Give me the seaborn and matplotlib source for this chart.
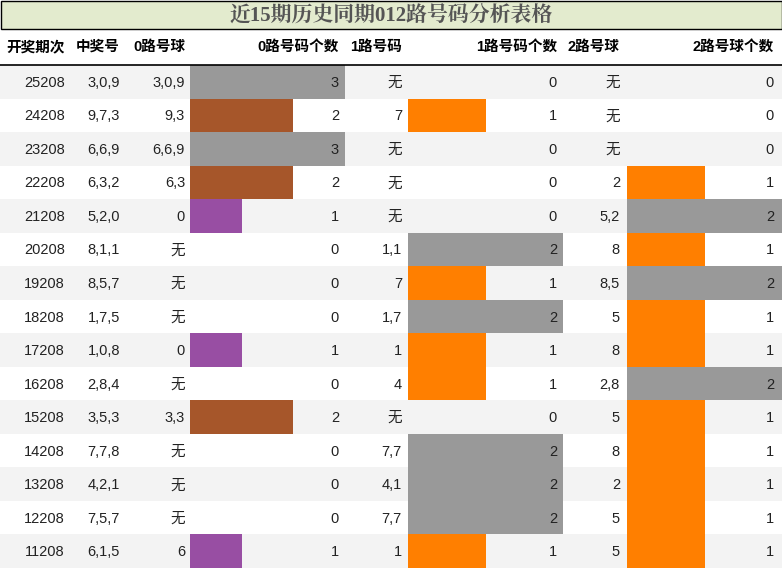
import matplotlib
matplotlib.use("Agg")
import matplotlib.pyplot as plt
import seaborn as sns
import numpy as np

sns.set_theme(style="white")
plt.rcParams['font.family'] = ['Liberation Sans', 'Noto Sans CJK SC', 'DejaVu Sans']

periods = ["25208","24208","23208","22208","21208","20208","19208","18208","17208","16208","15208","14208","13208","12208","11208"]
numbers = ["3,0,9","9,7,3","6,6,9","6,3,2","5,2,0","8,1,1","8,5,7","1,7,5","1,0,8","2,8,4","3,5,3","7,7,8","4,2,1","7,5,7","6,1,5"]
r0_balls = ["3,0,9","9,3","6,6,9","6,3","0","无","无","无","0","无","3,3","无","无","无","6"]
r0_counts = [3,2,3,2,1,0,0,0,1,0,2,0,0,0,1]
r1_balls = ["无","7","无","无","无","1,1","7","1,7","1","4","无","7,7","4,1","7,7","1"]
r1_counts = [0,1,0,0,0,2,1,2,1,1,0,2,2,2,1]
r2_balls = ["无","无","无","2","5,2","8","8,5","5","8","2,8","5","8","2","5","5"]
r2_counts = [0,0,0,1,2,1,2,1,1,2,1,1,1,1,1]
headers = ["开奖期次","中奖号","0路号球","0路号码个数","1路号码","1路号码个数","2路号球","2路号球个数"]
title = "近15期历史同期012路号码分析表格"

W, H = 782, 568
fig = plt.figure(figsize=(W/100, H/100), dpi=100)
ax = fig.add_axes([0, 0, 1, 1])
ax.set_xlim(0, W)
ax.set_ylim(H, 0)
ax.axis("off")

ax.add_patch(plt.Rectangle((0.5, 0.5), W-1, 28, facecolor="#e3ebce", edgecolor="black", lw=1))
ax.text(W/2, 15, title, ha="center", va="center", fontsize=15, fontweight="bold",
        color="#555555", family=['Liberation Serif', 'Noto Serif CJK SC', 'Noto Sans CJK SC'])

col_right = [65, 120, 185, 339, 402, 557, 620, 774]
for x, h in zip(col_right, headers):
    ax.text(x, 47, h, ha="right", va="center", fontsize=10.5, fontweight="bold", color="black")
ax.plot([0, W], [64.5, 64.5], color="black", lw=1.2)

top = 65
rh = (H - top) / 15
n = len(periods)
ys = top + rh * np.arange(n) + rh / 2
for i in range(n):
    if i % 2 == 0:
        ax.add_patch(plt.Rectangle((0, top + i*rh), W, rh, facecolor="#f3f3f3", edgecolor="none", zorder=0))

u0 = 155 / max(r0_counts)
u1 = 155 / max(r1_counts)
u2 = 155 / max(r2_counts)
c0 = {1: "#984ea3", 2: "#a6562a", 3: "#999999"}
c12 = {1: "#ff7f00", 2: "#999999"}
ax.barh(ys, [c*u0 for c in r0_counts], height=rh, left=190, linewidth=0,
        color=[c0.get(c, "none") for c in r0_counts], zorder=1)
ax.barh(ys, [c*u1 for c in r1_counts], height=rh, left=408, linewidth=0,
        color=[c12.get(c, "none") for c in r1_counts], zorder=1)
ax.barh(ys, [c*u2 for c in r2_counts], height=rh, left=627, linewidth=0,
        color=[c12.get(c, "none") for c in r2_counts], zorder=1)

cols = [periods, numbers, r0_balls, r0_counts, r1_balls, r1_counts, r2_balls, r2_counts]
for x, col in zip(col_right, cols):
    for y, v in zip(ys, col):
        ax.text(x, y + 1, str(v), ha="right", va="center", fontsize=10.5, color="#222222", zorder=2)

fig.savefig("out.png", dpi=100)
